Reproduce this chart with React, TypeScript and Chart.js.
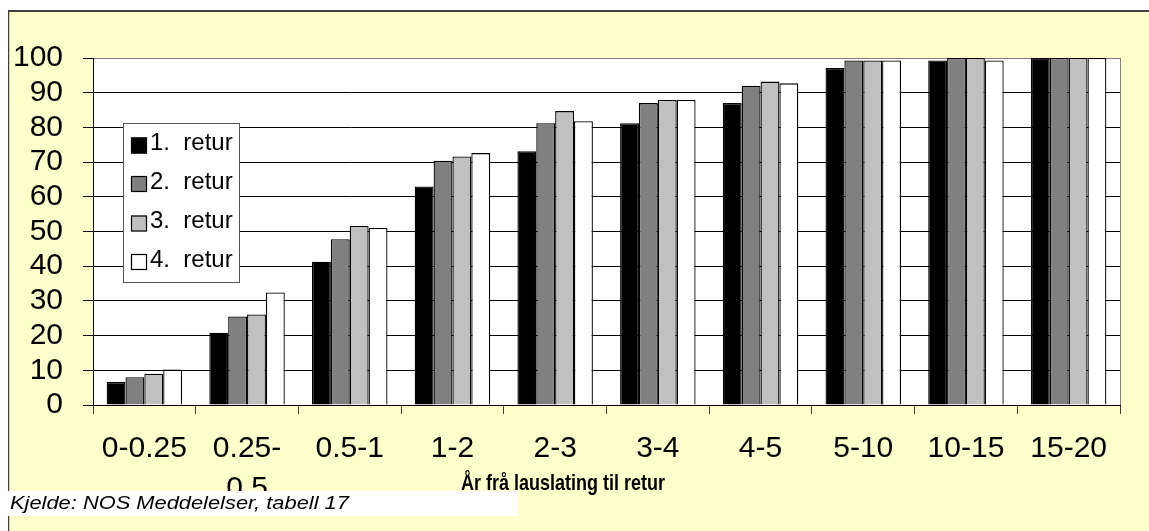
import React, { useEffect, useRef } from "react";
import { Chart, registerables } from "chart.js";

Chart.register(...registerables);

const categories: (string | string[])[] = [
  "0-0.25",
  ["0.25-", "0.5"],
  "0.5-1",
  "1-2",
  "2-3",
  "3-4",
  "4-5",
  "5-10",
  "10-15",
  "15-20",
];
const seriesNames = ["1. retur", "2. retur", "3. retur", "4. retur"];
const retur1 = [6.6, 20.8, 41.3, 63.0, 73.1, 81.2, 87.0, 97.1, 99.3, 100];
const retur2 = [8.0, 25.5, 47.8, 70.4, 81.2, 87.0, 92.0, 99.3, 100, 100];
const retur3 = [9.0, 26.1, 51.6, 71.6, 84.7, 87.9, 93.2, 99.3, 100, 100];
const retur4 = [10.2, 32.4, 51.0, 72.6, 81.8, 87.9, 92.7, 99.3, 99.3, 100];
const seriesColors = ["#000000", "#808080", "#C0C0C0", "#FFFFFF"];
const yMin = 0;
const yMax = 100;
const yStep = 10;
const xTitle = "År frå lauslating til retur";
const sourceText = "Kjelde: NOS Meddelelser, tabell 17";

const FONT = "'Liberation Sans', Arial, Helvetica, sans-serif";
const W = 1141;
const H = 523;

const decorPlugin = {
  id: "decor",
  beforeDraw(chart: any) {
    const { ctx, width, height, chartArea: a } = chart;
    ctx.save();
    ctx.fillStyle = "#FFFFFF";
    ctx.fillRect(0, 0, width, height);
    ctx.fillStyle = "#FFFFCC";
    ctx.fillRect(0, 3, width, height - 3);
    ctx.strokeStyle = "#404040";
    ctx.lineWidth = 2;
    ctx.beginPath();
    ctx.moveTo(0, 3);
    ctx.lineTo(width, 3);
    ctx.stroke();
    ctx.lineWidth = 1.5;
    ctx.beginPath();
    ctx.moveTo(0.5, 3);
    ctx.lineTo(0.5, height);
    ctx.stroke();
    ctx.fillStyle = "#FFFFFF";
    ctx.fillRect(a.left, a.top, a.right - a.left, a.bottom - a.top);
    ctx.strokeStyle = "#808080";
    ctx.lineWidth = 1;
    ctx.strokeRect(a.left + 0.5, a.top + 0.5, a.right - a.left, a.bottom - a.top);
    ctx.restore();
  },
  afterDraw(chart: any) {
    const { ctx } = chart;
    ctx.save();
    const lx = 115, ly = 115, lw = 116, lh = 159;
    ctx.fillStyle = "#FFFFFF";
    ctx.fillRect(lx, ly, lw, lh);
    ctx.strokeStyle = "#555555";
    ctx.lineWidth = 1;
    ctx.strokeRect(lx + 0.5, ly + 0.5, lw, lh);
    const centers = [137.5, 176, 215.5, 254];
    chart.data.datasets.forEach((ds: any, i: number) => {
      const cy = centers[i];
      ctx.fillStyle = ds.backgroundColor;
      ctx.fillRect(123, cy - 8, 16, 16);
      ctx.strokeStyle = "#000";
      ctx.lineWidth = 1.2;
      ctx.strokeRect(123.5, cy - 7.5, 15, 15);
      ctx.fillStyle = "#000";
      ctx.font = `24px ${FONT}`;
      ctx.textAlign = "left";
      ctx.textBaseline = "alphabetic";
      ctx.fillText(String(ds.label).replace(" ", "  "), 142, cy + 4.5);
    });
    ctx.save();
    ctx.translate(555, 482);
    ctx.scale(0.8, 1);
    ctx.font = `bold 22.5px ${FONT}`;
    ctx.fillStyle = "#000";
    ctx.textAlign = "center";
    ctx.textBaseline = "alphabetic";
    ctx.fillText(xTitle, 0, 0);
    ctx.restore();
    ctx.fillStyle = "#FFFFFF";
    ctx.fillRect(0, 483, 510, 25);
    ctx.save();
    ctx.translate(2, 501);
    ctx.scale(1.15, 1);
    ctx.font = `italic 19px ${FONT}`;
    ctx.fillStyle = "#000";
    ctx.textAlign = "left";
    ctx.fillText(sourceText, 0, 0);
    ctx.restore();
    ctx.restore();
  },
};

export default function App() {
  const ref = useRef<HTMLCanvasElement | null>(null);
  useEffect(() => {
    if (!ref.current) return;
    const series = [retur1, retur2, retur3, retur4];
    const chart = new Chart(ref.current, {
      type: "bar",
      data: {
        labels: categories as any,
        datasets: series.map((d, i) => ({
          label: seriesNames[i],
          data: d,
          backgroundColor: seriesColors[i],
          borderColor: "#000000",
          borderWidth: 1.3,
          categoryPercentage: 0.735,
          barPercentage: 1,
        })),
      },
      options: {
        responsive: false,
        animation: false,
        devicePixelRatio: 1,
        layout: { padding: { top: 50, right: 29, left: 0, bottom: 0 } },
        plugins: {
          legend: { display: false },
          tooltip: { enabled: false },
          title: { display: false },
        },
        scales: {
          x: {
            grid: {
              display: true,
              drawOnChartArea: false,
              drawTicks: true,
              tickLength: 9,
              color: "#404040",
              offset: true,
            },
            border: { display: true, color: "#000000", width: 1 },
            ticks: {
              color: "#000000",
              font: { family: FONT, size: 30, lineHeight: 40 / 30 },
              padding: 15,
              maxRotation: 0,
              minRotation: 0,
              autoSkip: false,
            },
            afterFit: (s: any) => {
              s.height = H - 397;
            },
          },
          y: {
            min: yMin,
            max: yMax,
            grid: {
              color: (c: any) => (c.tick && c.tick.value === yMax ? "#808080" : "#000000"),
              tickColor: "#000000",
              tickLength: 10,
              lineWidth: 1,
            },
            border: { display: true, color: "#000000", width: 1 },
            ticks: {
              stepSize: yStep,
              autoSkip: false,
              color: "#000000",
              font: { family: FONT, size: 30 },
              padding: 20,
            },
            afterFit: (s: any) => {
              s.width = 85;
            },
          },
        },
      },
      plugins: [decorPlugin],
    });
    return () => chart.destroy();
  }, []);
  return (
    <div style={{ position: "fixed", left: 8, top: 8, width: W, height: H, overflow: "hidden" }}>
      <canvas ref={ref} width={W} height={H} style={{ display: "block", width: W, height: H }} />
    </div>
  );
}
